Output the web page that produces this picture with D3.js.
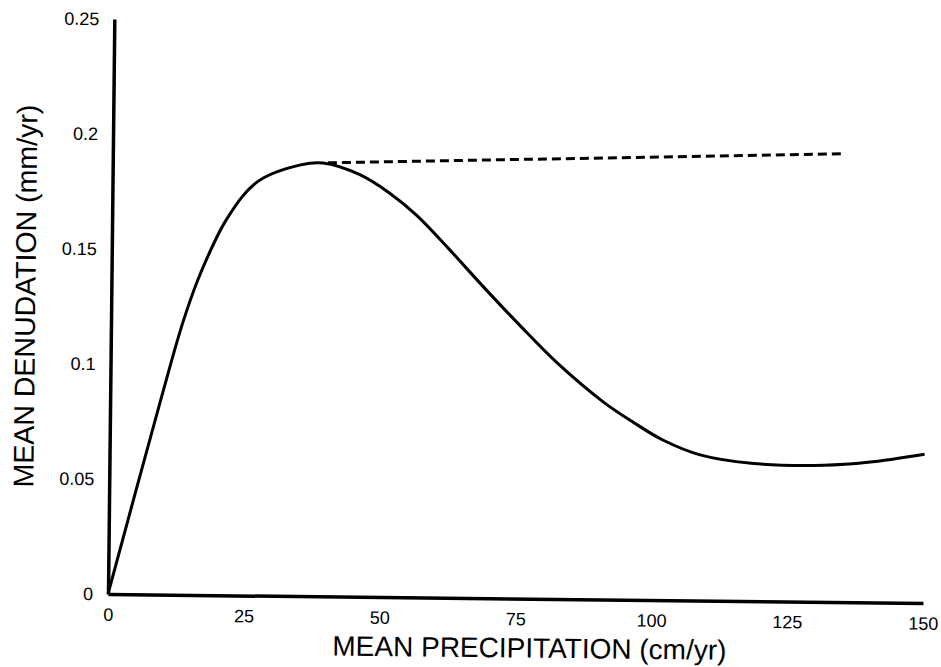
<!DOCTYPE html>
<html>
<head>
<meta charset="utf-8">
<script src="https://cdn.jsdelivr.net/npm/d3@7"></script>
<style>
  body { margin: 0; background: #fff; }
  text { font-family: "Liberation Sans", Arial, Helvetica, sans-serif; fill: #000; }
</style>
</head>
<body>
<div id="chart"></div>
<script>

// curve
const precip = [0, 9.3, 13.3, 16.4, 21.2, 26.7, 34.6, 38.7, 45.5, 51.1, 56.1, 61.9, 68.6, 74.9, 82.2, 90.8, 96.3, 101.8, 108.7, 118.1, 131.5, 139.6, 150];
const denud  = [0, 0.0845, 0.119, 0.140, 0.164, 0.180, 0.1875, 0.1884, 0.1835, 0.1755, 0.1660, 0.152, 0.135, 0.1196, 0.1026, 0.0858, 0.0772, 0.0696, 0.0633, 0.0599, 0.0594, 0.0609, 0.0647];

// dashed extension from the peak
const dashPrecip = [39.6, 134];
const dashDenud  = [0.1885, 0.1949];

const xTicks = [0, 25, 50, 75, 100, 125, 150];
const yTicks = [0, 0.05, 0.1, 0.15, 0.2, 0.25];
const yTickLabels = ["0", "0.05", "0.1", "0.15", "0.2", "0.25"];

const width = 941, height = 667;
const ox = 108, oy = 594;

let x = d3.scaleLinear().domain([0, 150]).range([ox, ox + 815]);
let y = d3.scaleLinear().domain([0, 0.25]).range([oy, oy - 575]);

let svg = d3.select("#chart")
  .append("svg")
  .attr("width", width)
  .attr("height", height);

// the scanned figure is tilted a little
let g = svg.append("g")
  .attr("transform", "rotate(0.63," + ox + "," + oy + ")");

// X axis
let xAxis = g.append("g")
  .attr("transform", "translate(0," + oy + ")")
  .call(d3.axisBottom(x).tickValues(xTicks).tickSize(0).tickPadding(14).tickFormat(d3.format("d")));
xAxis.select(".domain").attr("stroke", "#000").attr("stroke-width", 3.5);
xAxis.selectAll("text").style("font-size", "18px").attr("font-family", null);

// Y axis
let yAxis = g.append("g")
  .attr("transform", "translate(" + ox + ",0)")
  .call(d3.axisLeft(y).tickValues(yTicks).tickSize(0).tickPadding(15)
    .tickFormat((d, i) => yTickLabels[i]));
yAxis.select(".domain").attr("stroke", "#000").attr("stroke-width", 3.5);
yAxis.selectAll("text").style("font-size", "18px").attr("font-family", null);

// axis titles
g.append("text")
  .attr("x", 530)
  .attr("y", 653)
  .style("text-anchor", "middle")
  .style("font-size", "28px")
  .text("MEAN PRECIPITATION (cm/yr)");

g.append("text")
  .attr("transform", "translate(32,297) rotate(-90)")
  .style("text-anchor", "middle")
  .style("font-size", "28.5px")
  .text("MEAN DENUDATION (mm/yr)");

// main curve
let pts = precip.map((d, i) => [d, denud[i]]);
let line = d3.line()
  .x(d => x(d[0]))
  .y(d => y(d[1]))
  .curve(d3.curveCatmullRom.alpha(0.5));

g.append("path")
  .datum(pts)
  .attr("d", line)
  .attr("fill", "none")
  .attr("stroke", "#000")
  .attr("stroke-width", 3);

// dashed line
let dashPts = dashPrecip.map((d, i) => [d, dashDenud[i]]);
g.append("path")
  .datum(dashPts)
  .attr("d", d3.line().x(d => x(d[0])).y(d => y(d[1])))
  .attr("fill", "none")
  .attr("stroke", "#000")
  .attr("stroke-width", 3)
  .attr("stroke-dasharray", "9,5");

</script>
</body>
</html>
